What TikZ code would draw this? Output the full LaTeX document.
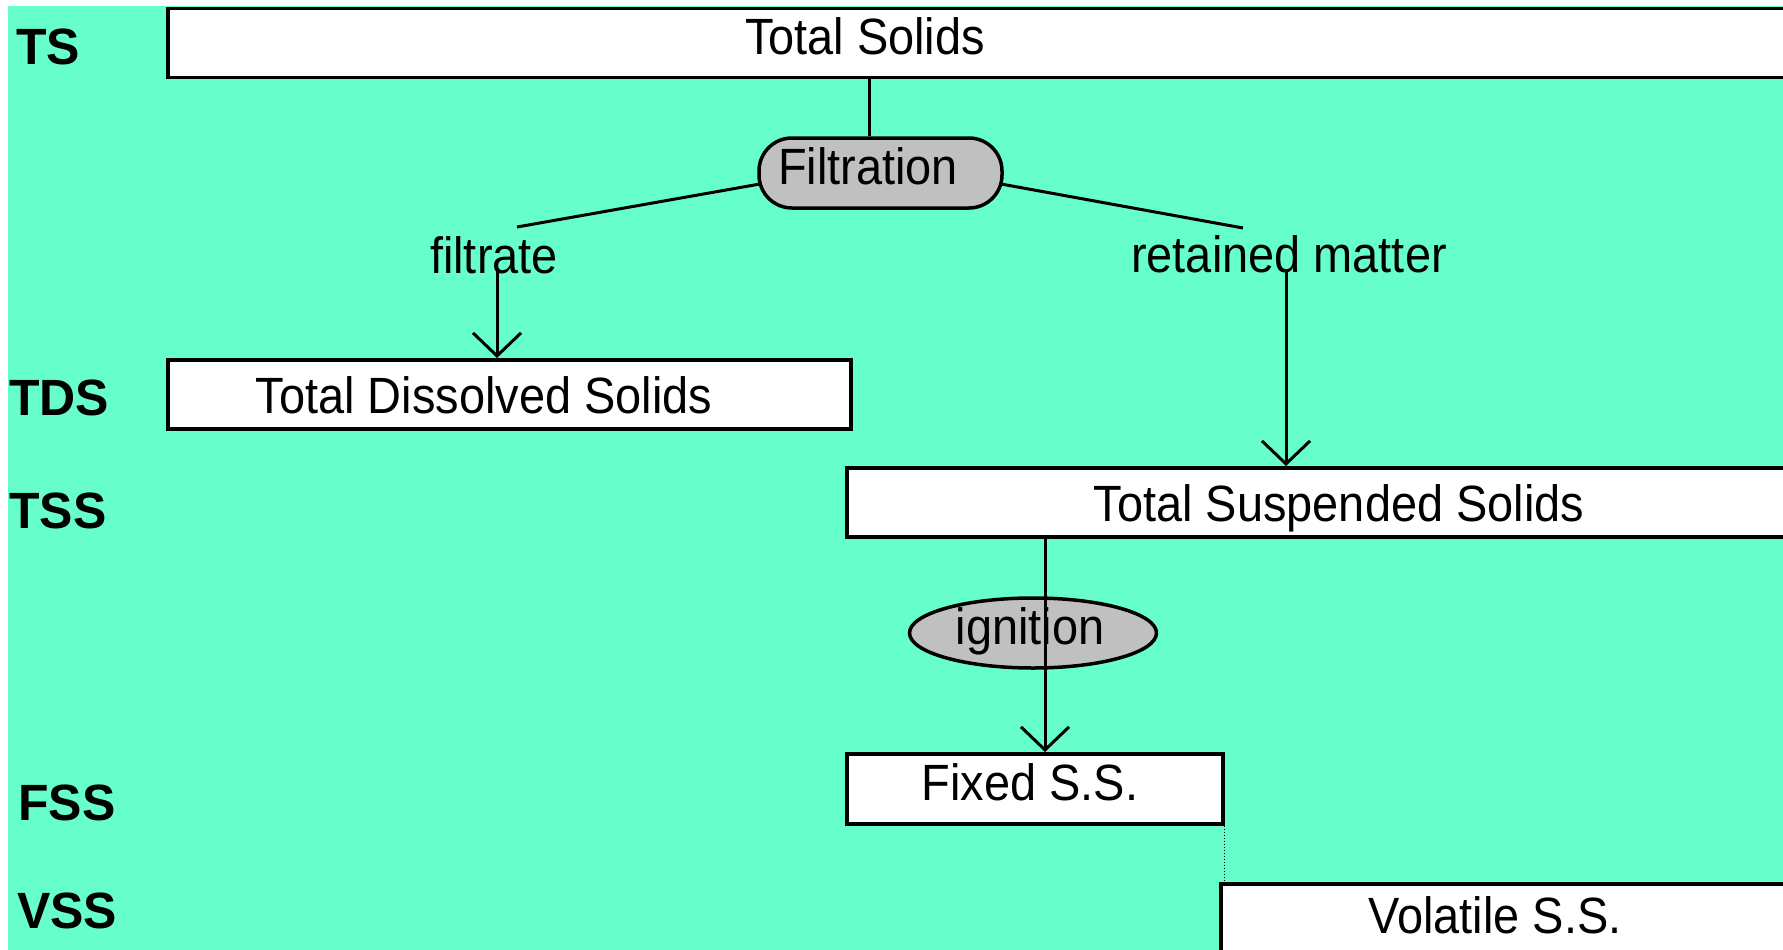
\documentclass[tikz,border=0pt]{standalone}
\usepackage{fontspec}
\setmainfont{Liberation Sans}[FakeStretch=0.92]
\newfontfamily\labfont{Liberation Sans}[FakeStretch=0.98]
\usetikzlibrary{shapes.geometric,arrows.meta}
\definecolor{bgteal}{RGB}{102,255,204}
\definecolor{procgray}{RGB}{192,192,192}
\begin{document}
\begin{tikzpicture}[x=1pt,y=-1pt,
  box/.style={draw=black,fill=white,line width=3.5pt,inner sep=0pt,anchor=north west},
  proc/.style={draw=black,fill=procgray,line width=3.5pt,inner sep=0pt},
  txt/.style={inner sep=0pt,anchor=base,font=\fontsize{51}{60}\selectfont},
  lab/.style={inner sep=0pt,anchor=base west,font=\labfont\bfseries\fontsize{51}{60}\selectfont},
  conn/.style={line width=3pt},
  arr/.style={conn,-{Straight Barb[length=23pt,width=48pt]}},
  dotline/.style={line width=1pt,dotted}
]
\useasboundingbox (0,0) rectangle (1783,950);
\clip (0,0) rectangle (1783,950);
\fill[white] (0,0) rectangle (1783,950);
\fill[bgteal] (8,6) rectangle (1783,950);

% boxes
\node[box,minimum width=1700pt,minimum height=69pt] (tsbox) at (166,7) {};
\node[box,minimum width=683pt,minimum height=69pt] (tdsbox) at (166,358) {};
\node[box,minimum width=1000pt,minimum height=69pt] (tssbox) at (845,466) {};
\node[box,minimum width=376pt,minimum height=70pt] (fssbox) at (845,752) {};
\node[box,minimum width=700pt,minimum height=150pt] (vssbox) at (1219,882) {};

% process shapes
\node[proc,rounded corners=33pt,minimum width=243pt,minimum height=70pt] (filt) at (880.5,173) {};
\node[proc,ellipse,minimum width=247pt,minimum height=70pt] (ign) at (1033,633) {};

% texts
\node[txt] (tstext) at (865,55) {Total Solids};
\node[txt] (filttext) at (868,184) {Filtration};
\node[txt] (filtrate) at (494,273) {filtrate};
\node[txt] (retained) at (1289,272) {retained matter};
\node[txt] (tdstext) at (484,413) {Total Dissolved Solids};
\node[txt] (tsstext) at (1339,521) {Total Suspended Solids};
\node[txt] (igntext) at (1030,644) {ignition};
\node[txt] (fsstext) at (1030,800) {Fixed S.S.};
\node[txt] (vsstext) at (1495,933) {Volatile S.S.};

% side labels
\node[lab] (lts) at (16,64) {TS};
\node[lab] (ltds) at (9,415) {TDS};
\node[lab] (ltss) at (9,528) {TSS};
\node[lab] (lfss) at (18,820) {FSS};
\node[lab] (lvss) at (17,928) {VSS};

% connector coordinates
\coordinate (tsout) at (869,76);
\coordinate (filtL) at (760,184);
\coordinate (filtR) at (1001,184);
\coordinate (fltend) at (517,227);
\coordinate (retend) at (1243,228);
\coordinate (fdown) at (497,268);
\coordinate (rdown) at (1286,272);
\coordinate (tssout) at (1045,535);

% connectors
\draw[conn] (tsout) -- (tsout |- filt.north);
\draw[conn] (filtL) -- (fltend);
\draw[conn] (filtR) -- (retend);
\draw[arr] (fdown) -- (fdown |- tdsbox.north);
\draw[arr] (rdown) -- (rdown |- tssbox.north);
\draw[arr] (tssout) -- (tssout |- fssbox.north);
\draw[dotline] (fssbox.south east) -- (fssbox.south east |- vssbox.north);
\end{tikzpicture}
\end{document}
